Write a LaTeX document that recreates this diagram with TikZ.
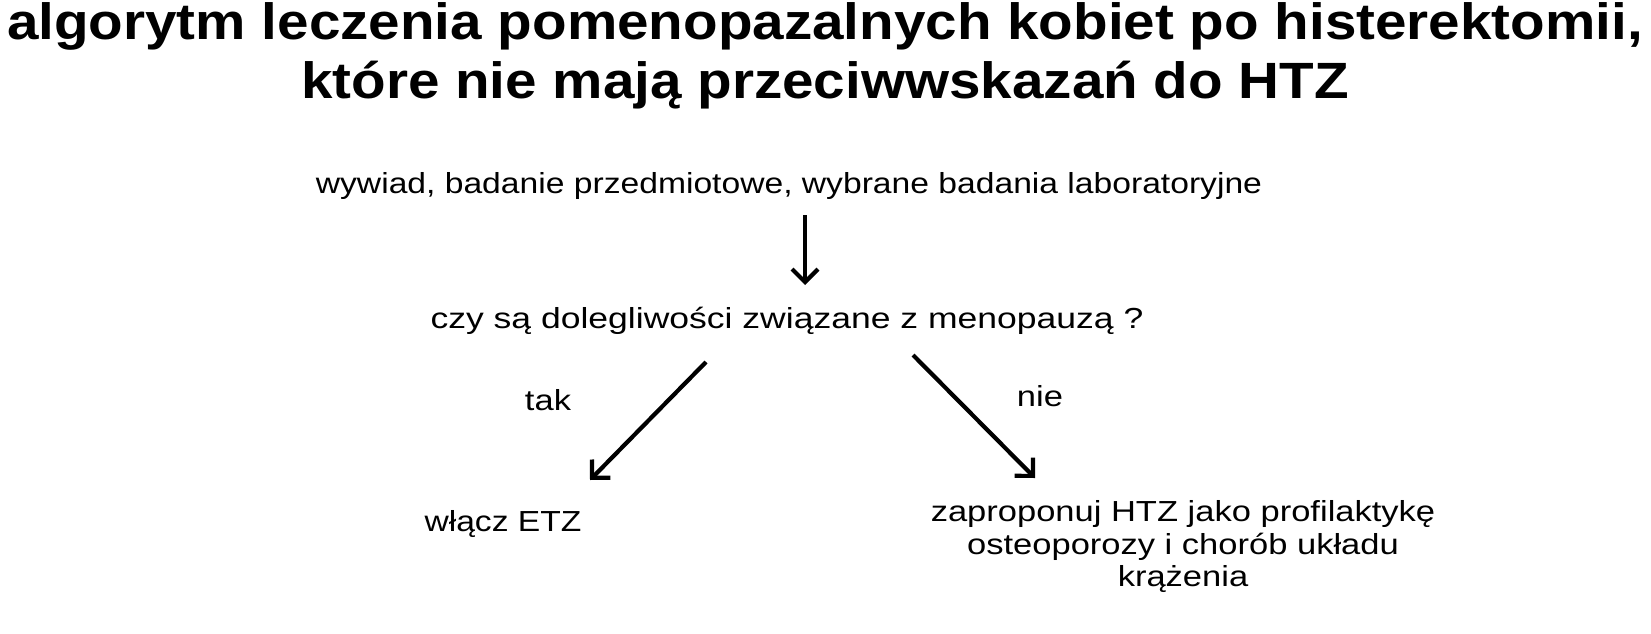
\documentclass[tikz,border=0pt]{standalone}
\usepackage{fontspec}
\setmainfont{Liberation Sans}
\usetikzlibrary{arrows.meta}
\newcommand{\stretchtext}[2]{\scalebox{#1}[1]{#2}}
\tikzset{
  titletext/.style={font=\fontsize{51}{57}\selectfont\bfseries, inner sep=0pt},
  bodytext/.style={font=\fontsize{29}{32.5}\selectfont, inner sep=0pt},
  flowarrow/.style={line width=4.2pt, -{Straight Barb[length=13pt,width=26pt,line width=4.2pt]}}
}
\begin{document}
\begin{tikzpicture}[x=1pt,y=-1pt]
\useasboundingbox (0,0) rectangle (1651,634);
\node[titletext, anchor=base] (t1) at (825,40) {\stretchtext{1.11}{algorytm leczenia pomenopazalnych kobiet po histerektomii,}};
\node[titletext, anchor=base] (t2) at (825,98) {\stretchtext{1.11}{które nie mają przeciwwskazań do HTZ}};
\node[bodytext, anchor=base] (a) at (789,193) {\stretchtext{1.16}{wywiad, badanie przedmiotowe, wybrane badania laboratoryjne}};
\node[bodytext, anchor=base] (q) at (787,328) {\stretchtext{1.225}{czy są dolegliwości związane z menopauzą ?}};
\node[bodytext, anchor=base] (tak) at (548,410) {\stretchtext{1.19}{tak}};
\node[bodytext, anchor=base] (nie) at (1040,406) {\stretchtext{1.19}{nie}};
\node[bodytext, anchor=base] (etz) at (503,531) {\stretchtext{1.16}{włącz ETZ}};
\node[bodytext, anchor=north] (htz) at (1183,499) {\stretchtext{1.19}{\begin{tabular}{@{}c@{}}zaproponuj HTZ jako profilaktykę\\osteoporozy i chorób układu\\krążenia\end{tabular}}};
\coordinate (d1) at (805,215);
\coordinate (d2) at (805,285);
\coordinate (l1) at (706,362);
\coordinate (l2) at (590,480);
\coordinate (r1) at (913,355);
\coordinate (r2) at (1035,478);
\draw[flowarrow] (d1) -- (d2);
\draw[flowarrow] (l1) -- (l2);
\draw[flowarrow] (r1) -- (r2);
\end{tikzpicture}
\end{document}
